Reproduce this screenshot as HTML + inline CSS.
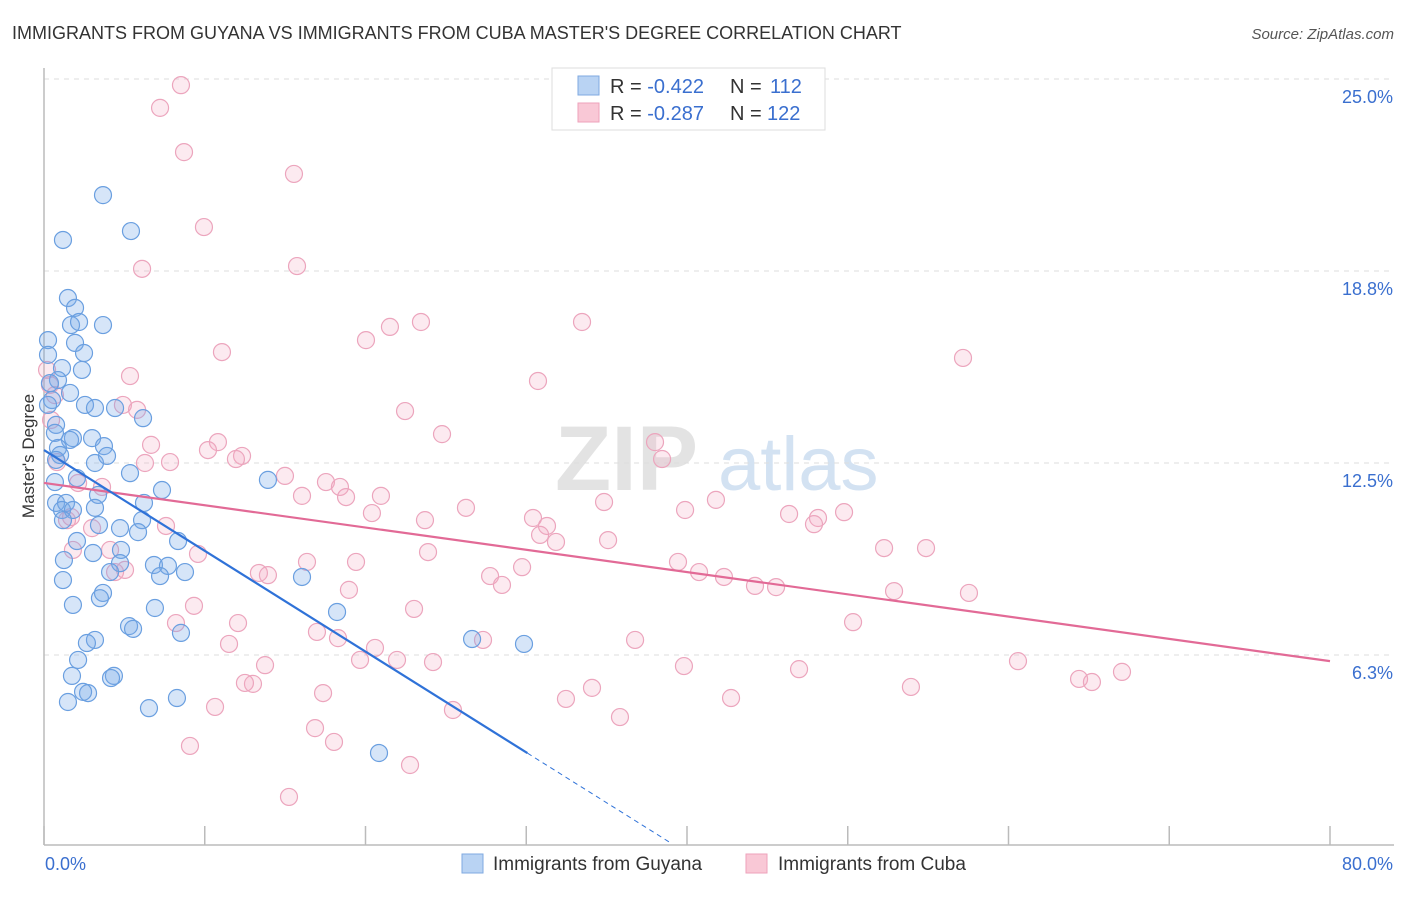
<!DOCTYPE html>
<html><head><meta charset="utf-8"><style>
body{margin:0;background:#fff;font-family:"Liberation Sans",sans-serif;}
svg text{font-family:"Liberation Sans",sans-serif;}
</style></head><body>
<svg id="chart" width="1406" height="892" viewBox="0 0 1406 892" xmlns="http://www.w3.org/2000/svg">
<text x="12" y="39" font-size="18" fill="#333">IMMIGRANTS FROM GUYANA VS IMMIGRANTS FROM CUBA MASTER'S DEGREE CORRELATION CHART</text>
<text x="1394" y="39" font-size="15" fill="#555" text-anchor="end" font-style="italic">Source: ZipAtlas.com</text>
<text x="555" y="490" font-size="92" fill="#ddd" font-family="Liberation Serif" font-weight="bold" opacity="0.8">ZIP</text>
<text x="718" y="490" font-size="76" fill="#c9dbf0" opacity="0.8">atlas</text>
<g id="grid"></g>
<g id="axes"></g>
<g id="pink-pts"></g>
<g id="blue-pts"></g>
<g id="lines"></g>
<text transform="translate(34,456) rotate(-90)" font-size="17" fill="#333" text-anchor="middle">Master's Degree</text>
<g>
<rect x="552" y="68" width="273" height="62" fill="#fff" stroke="#ddd"/>
<rect x="578" y="76" width="21" height="19" fill="#b9d3f3" stroke="#7fa9e0"/>
<rect x="578" y="103" width="21" height="19" fill="#f9c8d6" stroke="#eea2bb"/>
<text x="610" y="93" font-size="20" fill="#333">R = <tspan fill="#3a6fcf">-0.422</tspan><tspan x="730">N = </tspan><tspan fill="#3a6fcf" x="770">112</tspan></text>
<text x="610" y="120" font-size="20" fill="#333">R = <tspan fill="#3a6fcf">-0.287</tspan><tspan x="730">N = </tspan><tspan fill="#3a6fcf" x="767">122</tspan></text>
</g>
<g>
<rect x="462" y="854" width="21" height="19" fill="#b9d3f3" stroke="#7fa9e0"/>
<text x="493" y="870" font-size="19" fill="#333">Immigrants from Guyana</text>
<rect x="746" y="854" width="21" height="19" fill="#f9c8d6" stroke="#eea2bb"/>
<text x="778" y="870" font-size="19" fill="#333">Immigrants from Cuba</text>
</g>
</svg>
<script>
const yTicks=[25.0,18.8,12.5,6.3];
const yTickVals=[25,18.75,12.5,6.25];
const xTickVals=[0,10,20,30,40,50,60,70,80];
const xLabels=["0.0%","80.0%"];
const blueX=[3.67,1.18,5.41,1.49,1.93,1.68,3.67,2.18,0.25,1.93,2.49,0.25,1.12,2.36,0.87,0.37,1.62,0.5,0.25,2.55,3.17,4.42,6.16,0.75,0.68,1.8,2.99,1.62,3.73,0.87,1.0,3.92,0.75,3.17,5.35,2.05,13.93,0.68,7.34,3.36,0.75,1.37,6.22,1.12,1.8,3.17,1.18,6.1,3.42,4.73,5.85,8.34,2.05,4.79,3.05,1.24,4.73,6.84,7.71,4.11,7.22,8.77,16.05,1.18,3.67,3.48,1.8,6.9,18.23,5.29,5.54,8.52,3.17,2.67,26.63,29.86,2.12,4.35,4.17,1.74,2.74,2.43,8.27,6.53,1.49,20.84];
const blueY=[21.22,19.76,20.05,17.87,17.55,16.99,16.99,17.09,16.5,16.41,16.08,16.02,15.59,15.53,15.2,15.1,14.78,14.55,14.39,14.39,14.29,14.29,13.96,13.74,13.48,13.31,13.31,13.25,13.05,12.99,12.76,12.73,12.6,12.5,12.17,12.01,11.95,11.88,11.62,11.46,11.2,11.2,11.2,10.97,10.97,11.04,10.64,10.64,10.48,10.38,10.25,9.96,9.96,9.67,9.57,9.34,9.24,9.18,9.15,8.95,8.82,8.95,8.79,8.69,8.27,8.1,7.88,7.78,7.65,7.19,7.1,6.97,6.74,6.64,6.77,6.61,6.09,5.57,5.5,5.57,5.01,5.05,4.85,4.52,4.72,3.06];
const pinkX=[8.52,7.22,8.71,15.55,9.95,6.1,15.74,33.47,23.45,21.52,20.03,11.07,57.17,30.73,5.35,0.19,0.37,0.68,22.46,4.91,5.79,0.44,24.76,6.66,10.82,38.01,10.2,12.32,11.94,7.84,6.28,38.45,0.81,14.99,2.12,3.61,17.54,18.41,18.79,16.05,20.96,34.84,41.8,26.25,39.88,20.4,49.77,46.35,30.42,31.29,48.15,47.9,23.7,1.43,1.68,7.59,2.99,30.86,31.85,35.09,52.26,54.87,23.89,9.58,4.11,1.8,16.36,19.41,29.74,39.44,40.75,42.3,27.75,28.49,13.37,13.93,4.42,5.04,44.23,45.54,52.88,57.54,18.97,9.33,23.02,8.21,12.07,50.33,16.98,18.29,27.31,36.77,11.51,20.59,19.66,13.75,21.96,24.2,60.59,39.81,46.97,67.06,13.0,12.5,64.39,65.19,34.09,17.36,53.93,32.47,42.74,10.64,25.44,35.83,16.86,18.04,9.08,22.77,15.24];
const pinkY=[24.8,24.06,22.62,21.91,20.18,18.82,18.91,17.09,17.09,16.93,16.5,16.11,15.92,15.17,15.33,15.53,15.04,14.71,14.19,14.39,14.23,13.9,13.44,13.09,13.18,13.18,12.92,12.73,12.63,12.53,12.5,12.63,12.53,12.08,11.85,11.72,11.88,11.72,11.39,11.43,11.43,11.23,11.3,11.04,10.97,10.87,10.9,10.84,10.71,10.45,10.71,10.51,10.64,10.64,10.74,10.45,10.38,10.16,9.93,9.99,9.73,9.73,9.6,9.54,9.67,9.67,9.28,9.28,9.11,9.28,8.95,8.79,8.82,8.53,8.92,8.85,8.95,9.02,8.5,8.46,8.33,8.27,8.37,7.85,7.75,7.29,7.29,7.32,7.0,6.8,6.74,6.74,6.61,6.48,6.09,5.92,6.09,6.02,6.05,5.89,5.79,5.7,5.31,5.34,5.47,5.37,5.18,5.01,5.21,4.82,4.85,4.56,4.46,4.23,3.87,3.42,3.29,2.67,1.63];
const blueTrend=[12.92,-0.328];
const pinkTrend=[11.85,-0.0725];
const blueSolidEnd=30.07, blueDashEnd=39;

const X0=44,X1=1330,Y0=847,YS=30.72;
function sx(v){return X0+v*(X1-X0)/80;}
function sy(v){return Y0-v*YS;}
const NS='http://www.w3.org/2000/svg';
function mk(tag,attrs,parent){const e=document.createElementNS(NS,tag);for(const k in attrs)e.setAttribute(k,attrs[k]);document.getElementById(parent).appendChild(e);return e;}

yTickVals.forEach((v,i)=>{
  const g=mk('line',{x1:X0,x2:1394,y1:sy(v),y2:sy(v),stroke:'#ddd','stroke-dasharray':'5,5'},'grid');
  
  
  const t=mk('text',{x:1393,y:sy(v)+24,'font-size':18,fill:'#3a6fcf','text-anchor':'end'},'grid');
  t.textContent=yTicks[i].toFixed(1)+'%';
  
  
});
const ax=mk('line',{x1:X0,x2:X0,y1:68,y2:845,stroke:'#bbb','stroke-width':1.5},'axes');


const bx=mk('line',{x1:X0,x2:1394,y1:845,y2:845,stroke:'#bbb','stroke-width':1.5},'axes');


xTickVals.forEach(v=>{
  const t=mk('line',{x1:sx(v),x2:sx(v),y1:826,y2:845,stroke:'#bbb','stroke-width':1.5},'axes');
  
  
});
const l0=mk('text',{x:45,y:870,'font-size':18,fill:'#3a6fcf'},'axes');l0.textContent=xLabels[0];


const l1=mk('text',{x:1393,y:870,'font-size':18,fill:'#3a6fcf','text-anchor':'end'},'axes');l1.textContent=xLabels[1];



pinkX.forEach((x,i)=>{
  const c=mk('circle',{cx:sx(x),cy:sy(pinkY[i]),r:8.5,fill:'rgba(244,170,195,0.25)',stroke:'#eca5bd','stroke-width':1.2},'pink-pts');
  
  
});
blueX.forEach((x,i)=>{
  const c=mk('circle',{cx:sx(x),cy:sy(blueY[i]),r:8.5,fill:'rgba(120,170,232,0.3)',stroke:'#6a9fe0','stroke-width':1.2},'blue-pts');
  
  
});
const f=(t,x)=>t[0]+t[1]*x;
const pl=mk('line',{x1:sx(0),y1:sy(f(pinkTrend,0)),x2:sx(80),y2:sy(f(pinkTrend,80)),stroke:'#e26a96','stroke-width':2.2},'lines');


const bl=mk('line',{x1:sx(0),y1:sy(f(blueTrend,0)),x2:sx(blueSolidEnd),y2:sy(f(blueTrend,blueSolidEnd)),stroke:'#2f72d8','stroke-width':2.2},'lines');


const bd=mk('line',{x1:sx(blueSolidEnd),y1:sy(f(blueTrend,blueSolidEnd)),x2:sx(blueDashEnd),y2:sy(f(blueTrend,blueDashEnd)),stroke:'#2f72d8','stroke-width':1,'stroke-dasharray':'5,4'},'lines');


</script>
</body></html>
